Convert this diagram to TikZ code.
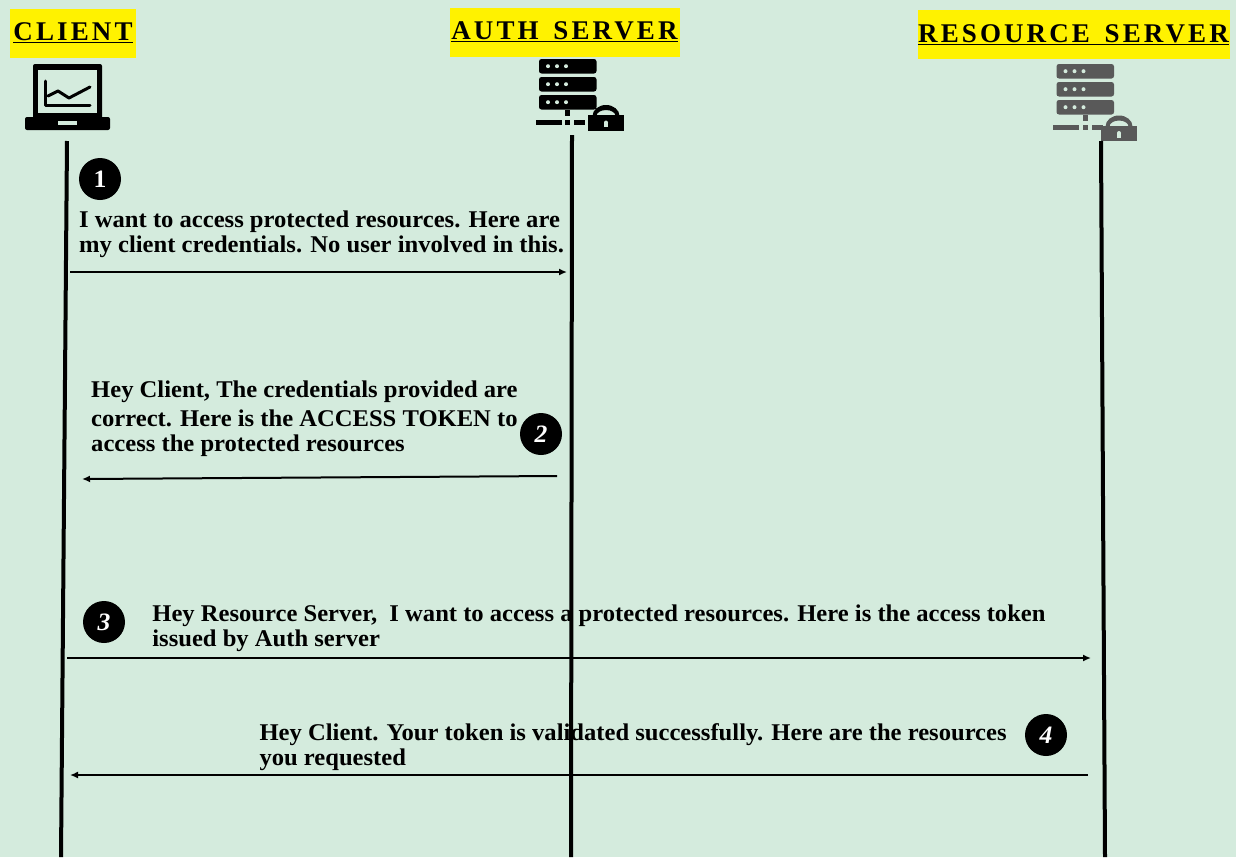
\documentclass[tikz,border=0pt]{standalone}
\usepackage{fontspec}
\usetikzlibrary{positioning,arrows.meta}
\setmainfont[FakeStretch=1.025]{Liberation Serif}
\newfontfamily\headfont[LetterSpace=11.5,WordSpace=1.5]{Liberation Serif}
\definecolor{pagegreen}{HTML}{D4EBDD}
\definecolor{servergray}{HTML}{595959}
\tikzset{
  pics/laptopicon/.style={code={
    \fill[rounded corners=2pt] (33,64) rectangle (102,119);
    \fill[pagegreen] (38,70) rectangle (97,113);
    \fill[rounded corners=2pt] (25,117) -- (110,117) -- (110,130) -- (25,130) -- cycle;
    \fill[pagegreen] (58,121) rectangle (77,124.5);
    \draw[line width=3pt, line cap=round, line join=round] (45,81) -- (45,105) -- (90,105);
    \draw[line width=3pt, line cap=round, line join=round] (48,96) -- (58,91) -- (69,98) -- (90,87);
  }},
  pics/serverrack/.style={code={
    \foreach \rackY in {0,18,36} {
      \fill[#1, rounded corners=2.5pt] (0,\rackY) rectangle (57.5,\rackY+14.5);
      \foreach \dotX in {9,18,27} \fill[pagegreen] (\dotX,\rackY+7.2) circle (2);
    }
    \fill[#1] (26,51) rectangle (31,57);
    \fill[#1] (-3.5,61) rectangle (22.5,66);
    \fill[#1] (26,61) rectangle (31,66);
    \fill[#1] (35,61) rectangle (46,66);
  }},
  pics/lockicon/.style={code={
    \fill[#1] (0,0) rectangle (36,15.5);
    \fill[#1] (4.5,1) arc[start angle=180, end angle=360, x radius=13.5, y radius=11] -- (27.5,1) arc[start angle=360, end angle=180, x radius=9.5, y radius=6] -- cycle;
    \fill[pagegreen] (18,7.5) circle (2);
    \fill[pagegreen] (16.2,7.5) rectangle (19.8,12);
  }}
}
\begin{document}
\begin{tikzpicture}[
  x=1pt, y=-1pt,
  head/.style={fill=yellow, inner sep=0pt, minimum height=49pt, font=\headfont\bfseries\fontsize{27}{30}\selectfont},
  msg/.style={align=left, inner sep=0pt, font=\bfseries\fontsize{24}{25}\selectfont},
  stepdot/.style={circle, fill=black, text=white, minimum size=42pt, inner sep=0pt, font=\bfseries\itshape\fontsize{25}{25}\selectfont},
  lifeline/.style={line width=4pt},
  arr/.style={line width=2pt, -{Latex[length=8pt,width=7pt]}}
]
\useasboundingbox (0,0) rectangle (1236,857);
\fill[pagegreen] (0,0) rectangle (1236,857);
% headings
\node[head, minimum width=126pt] (client) at (73,33) {\underline{CLIENT}};
\node[head, minimum width=230pt] (auth) at (564.5,32) {\underline{AUTH SERVER}};
\node[head, minimum width=312pt] (resource) at (1073.5,34.5) {\underline{RESOURCE SERVER}};
% icons
\pic at (0,0) {laptopicon};
\pic at (539,59) {serverrack=black};
\pic at (588,115) {lockicon=black};
\pic at (1056.5,64) {serverrack=servergray};
\pic at (1101,125.5) {lockicon=servergray};
% lifelines
\coordinate (clienttop) at (67,141);
\coordinate (clientend) at (61,857);
\coordinate (authtop) at (572,135);
\coordinate (authend) at (571,857);
\coordinate (restop) at (1101,141);
\coordinate (resend) at (1105,857);
\draw[lifeline] (clienttop) -- (clientend);
\draw[lifeline] (authtop) -- (authend);
\draw[lifeline] (restop) -- (resend);
% steps
\node[stepdot] (one) at (100,179) {\textup{1}};
\node[stepdot] (two) at (541,434) {2};
\node[stepdot] (three) at (104,622) {3};
\node[stepdot] (four) at (1046,735) {4};
% messages
\node[msg, below right=10pt and -21pt of one.south] (msgone) {I want to access protected resources. Here are\\ my client credentials. No user involved in this.};
\node[msg, left=2pt of two, yshift=15pt] (msgtwo) {Hey Client, The credentials provided are\\[4pt] correct. Here is the ACCESS TOKEN to\\ access the protected resources};
\node[msg, right=27pt of three, yshift=-6pt] (msgthree) {Hey Resource Server,\ \ I want to access a protected resources. Here is the access token\\ issued by Auth server};
\node[msg, left=18pt of four, yshift=-12pt] (msgfour) {Hey Client. Your token is validated successfully. Here are the resources\\ you requested};
% arrows
\coordinate (aonestart) at (70,272);
\coordinate (aoneend) at (567,272);
\coordinate (atwostart) at (557,476);
\coordinate (atwoend) at (82,479);
\coordinate (athreestart) at (67,658);
\coordinate (athreeend) at (1091,658);
\coordinate (afourstart) at (1088,775);
\coordinate (afourend) at (70,775);
\draw[arr] (aonestart) -- (aoneend);
\draw[arr] (atwostart) -- (atwoend);
\draw[arr] (athreestart) -- (athreeend);
\draw[arr] (afourstart) -- (afourend);
\end{tikzpicture}
\end{document}
